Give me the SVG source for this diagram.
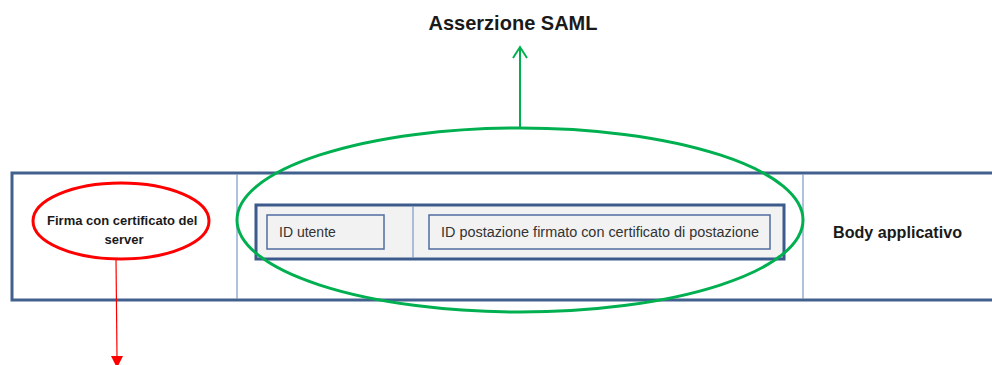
<svg xmlns="http://www.w3.org/2000/svg" width="992" height="365" viewBox="0 0 992 365">
  <defs>
    <style>
      .bold { font-family: "Liberation Sans", Arial, sans-serif; font-weight: bold; fill: #1a1a1a; }
      .reg { font-family: "Liberation Sans", Arial, sans-serif; fill: #333333; font-size: 14px; }
      .outer { fill: #ffffff; stroke: #42608e; stroke-width: 3; }
      .divider { stroke: #7d97c4; stroke-width: 1.2; }
      .inner { fill: #f2f2f2; stroke: #3c5a8c; stroke-width: 3; }
      .field { fill: #f2f2f2; stroke: #4f6c9e; stroke-width: 1.5; }
    </style>
    <marker id="redHead" viewBox="0 0 12 12" refX="6" refY="12" markerWidth="12" markerHeight="12" markerUnits="userSpaceOnUse" orient="auto-start-reverse">
      <path d="M0 0 L12 0 L6 12 Z" fill="#ff0000"/>
    </marker>
  </defs>
  <rect width="992" height="365" fill="#ffffff"/>

  <g id="message">
    <rect class="outer" x="12" y="173" width="990" height="127"/>
    <line class="divider" x1="237" y1="174" x2="237" y2="299"/>
    <line class="divider" x1="803" y1="174" x2="803" y2="299"/>
  </g>

  <g id="assertion-box">
    <rect class="inner" x="256" y="205" width="528" height="54"/>
    <line class="divider" x1="413" y1="206" x2="413" y2="258"/>
  </g>

  <g id="id-utente">
    <rect class="field" x="267" y="215" width="117" height="34"/>
    <text class="reg" x="279" y="237">ID utente</text>
  </g>

  <g id="id-postazione">
    <rect class="field" x="429" y="215" width="341" height="34"/>
    <text class="reg" x="441" y="237" textLength="318" lengthAdjust="spacingAndGlyphs">ID postazione firmato con certificato di postazione</text>
  </g>

  <g id="body-applicativo">
    <text class="bold" x="833" y="238" font-size="16" textLength="129" lengthAdjust="spacingAndGlyphs">Body applicativo</text>
  </g>

  <g id="firma-server">
    <ellipse cx="121" cy="221" rx="88" ry="38" fill="#ffffff" stroke="#ff0000" stroke-width="3"/>
    <text class="bold" font-size="13" text-anchor="middle">
      <tspan x="124" y="225">Firma con certificato del</tspan>
      <tspan x="124" y="244">server</tspan>
    </text>
  </g>

  <g id="asserzione-saml">
    <ellipse cx="520" cy="220" rx="283" ry="92" fill="none" stroke="#00b050" stroke-width="3"/>
    <text class="bold" x="513" y="30" font-size="21" text-anchor="middle" textLength="169" lengthAdjust="spacingAndGlyphs">Asserzione SAML</text>
  </g>

  <g id="connectors">
    <line x1="520" y1="128" x2="520" y2="48" stroke="#00b050" stroke-width="2"/>
    <polyline points="513,58 520,47 527,58" fill="none" stroke="#00b050" stroke-width="2"/>
    <line x1="116" y1="259" x2="117" y2="357" stroke="#ff0000" stroke-width="1.2"/>
    <path d="M111 356 L123 356 L117 368 Z" fill="#ff0000"/>
  </g>
</svg>
